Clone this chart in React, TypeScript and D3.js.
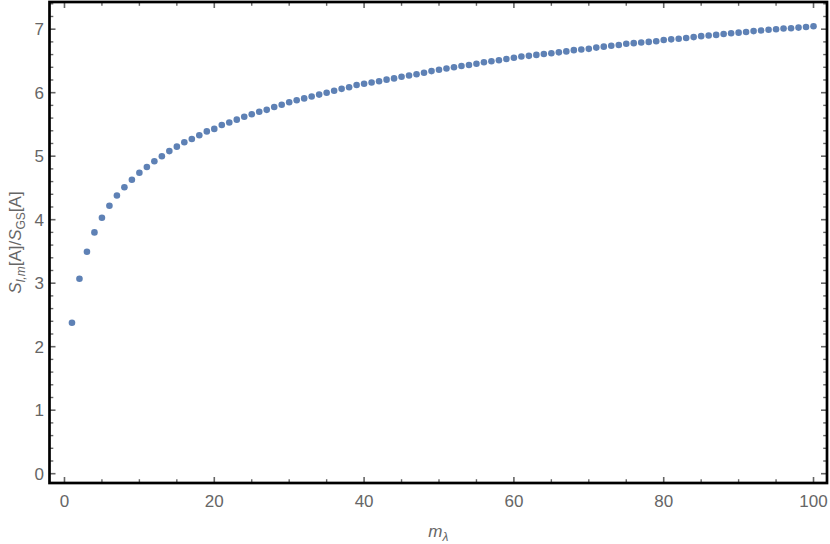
import React from "react";
import * as d3 from "d3";

const mValues: number[] = d3.range(1, 101);
const ratioValues: number[] = [
  2.378, 3.071, 3.496, 3.8, 4.03, 4.22, 4.38, 4.51, 4.63, 4.74,
  4.83, 4.92, 5.0, 5.08, 5.15, 5.22, 5.27, 5.33, 5.39, 5.43,
  5.49, 5.53, 5.575, 5.62, 5.66, 5.7, 5.73, 5.775, 5.81, 5.85,
  5.88, 5.91, 5.94, 5.97, 6.0, 6.03, 6.06, 6.085, 6.12, 6.14,
  6.16, 6.18, 6.205, 6.225, 6.25, 6.27, 6.29, 6.315, 6.34, 6.36,
  6.38, 6.4, 6.42, 6.435, 6.455, 6.48, 6.495, 6.51, 6.53, 6.55,
  6.57, 6.58, 6.595, 6.61, 6.62, 6.635, 6.65, 6.67, 6.68, 6.69,
  6.71, 6.725, 6.74, 6.75, 6.77, 6.78, 6.79, 6.8, 6.81, 6.83,
  6.84, 6.85, 6.86, 6.875, 6.89, 6.9, 6.91, 6.925, 6.935, 6.945,
  6.955, 6.97, 6.98, 6.99, 7.0, 7.01, 7.015, 7.025, 7.035, 7.045,
];
const xMajorTicks: number[] = [0, 20, 40, 60, 80, 100];
const yMajorTicks: number[] = [0, 1, 2, 3, 4, 5, 6, 7];

const W = 830;
const H = 544;
const L = 49.5, R = 827, T = 2, B = 483;

export default function App() {
  const x = d3.scaleLinear().domain([-2.0, 101.8]).range([L, R]);
  const y = d3.scaleLinear().domain([-0.1465, 7.428]).range([B, T]);

  const xMinor = d3.range(0, 101, 5).filter((v) => v % 20 !== 0);
  const yMinor = d3.range(0, 37.5, 1).map((v) => v * 0.2).filter((v) => Math.abs(v - Math.round(v)) > 1e-6 && v < 7.42);

  const tickColor = "#666";
  const labelColor = "#666";
  const font = "'Liberation Sans', Arial, sans-serif";
  const majLen = 6;
  const minLen = 3.8;

  return (
    <svg width={W} height={H} style={{ position: "absolute", left: 0, top: 0, background: "#fff" }}>
      {/* ticks */}
      <g stroke={tickColor}>
        {xMajorTicks.map((v) => (
          <g key={"xm" + v}>
            <line x1={x(v)} x2={x(v)} y1={B} y2={B - majLen} strokeWidth={1.6} />
            <line x1={x(v)} x2={x(v)} y1={T} y2={T + majLen} strokeWidth={1.6} />
          </g>
        ))}
        {xMinor.map((v) => (
          <g key={"xn" + v}>
            <line x1={x(v)} x2={x(v)} y1={B} y2={B - minLen} strokeWidth={1.4} />
            <line x1={x(v)} x2={x(v)} y1={T} y2={T + minLen} strokeWidth={1.4} />
          </g>
        ))}
        {yMajorTicks.map((v) => (
          <g key={"ym" + v}>
            <line x1={L} x2={L + majLen} y1={y(v)} y2={y(v)} strokeWidth={1.6} />
            <line x1={R} x2={R - majLen} y1={y(v)} y2={y(v)} strokeWidth={1.6} />
          </g>
        ))}
        {yMinor.map((v) => (
          <g key={"yn" + v}>
            <line x1={L} x2={L + minLen} y1={y(v)} y2={y(v)} strokeWidth={1.4} />
            <line x1={R} x2={R - minLen} y1={y(v)} y2={y(v)} strokeWidth={1.4} />
          </g>
        ))}
      </g>
      {/* frame */}
      <rect x={L} y={T} width={R - L} height={B - T} fill="none" stroke="#000" strokeWidth={2.7} />
      {/* tick labels */}
      <g fill={labelColor} fontFamily={font} fontSize={17}>
        {xMajorTicks.map((v) => (
          <text key={"xl" + v} x={x(v)} y={507} textAnchor="middle">{v}</text>
        ))}
        {yMajorTicks.map((v) => (
          <text key={"yl" + v} x={44} y={y(v) + 6} textAnchor="end">{v}</text>
        ))}
      </g>
      {/* points */}
      <g fill="#5E81B5">
        {mValues.map((m, i) => (
          <circle key={m} cx={x(m)} cy={y(ratioValues[i])} r={3.3} />
        ))}
      </g>
      {/* axis titles */}
      <text x={(L + R) / 2} y={537} textAnchor="middle" fill={labelColor} fontFamily={font} fontSize={17}>
        <tspan fontStyle="italic">m</tspan>
        <tspan fontStyle="italic" fontSize={12} dy={4}>λ</tspan>
      </text>
      <text
        transform={`translate(21, ${(T + B) / 2}) rotate(-90)`}
        textAnchor="middle"
        fill={labelColor}
        fontFamily={font}
        fontSize={17}
      >
        <tspan fontStyle="italic">S</tspan>
        <tspan fontStyle="italic" fontSize={12} dy={4}>l,m</tspan>
        <tspan dy={-4}>[A]/</tspan>
        <tspan fontStyle="italic">S</tspan>
        <tspan fontSize={12} dy={4}>GS</tspan>
        <tspan dy={-4}>[A]</tspan>
      </text>
    </svg>
  );
}
